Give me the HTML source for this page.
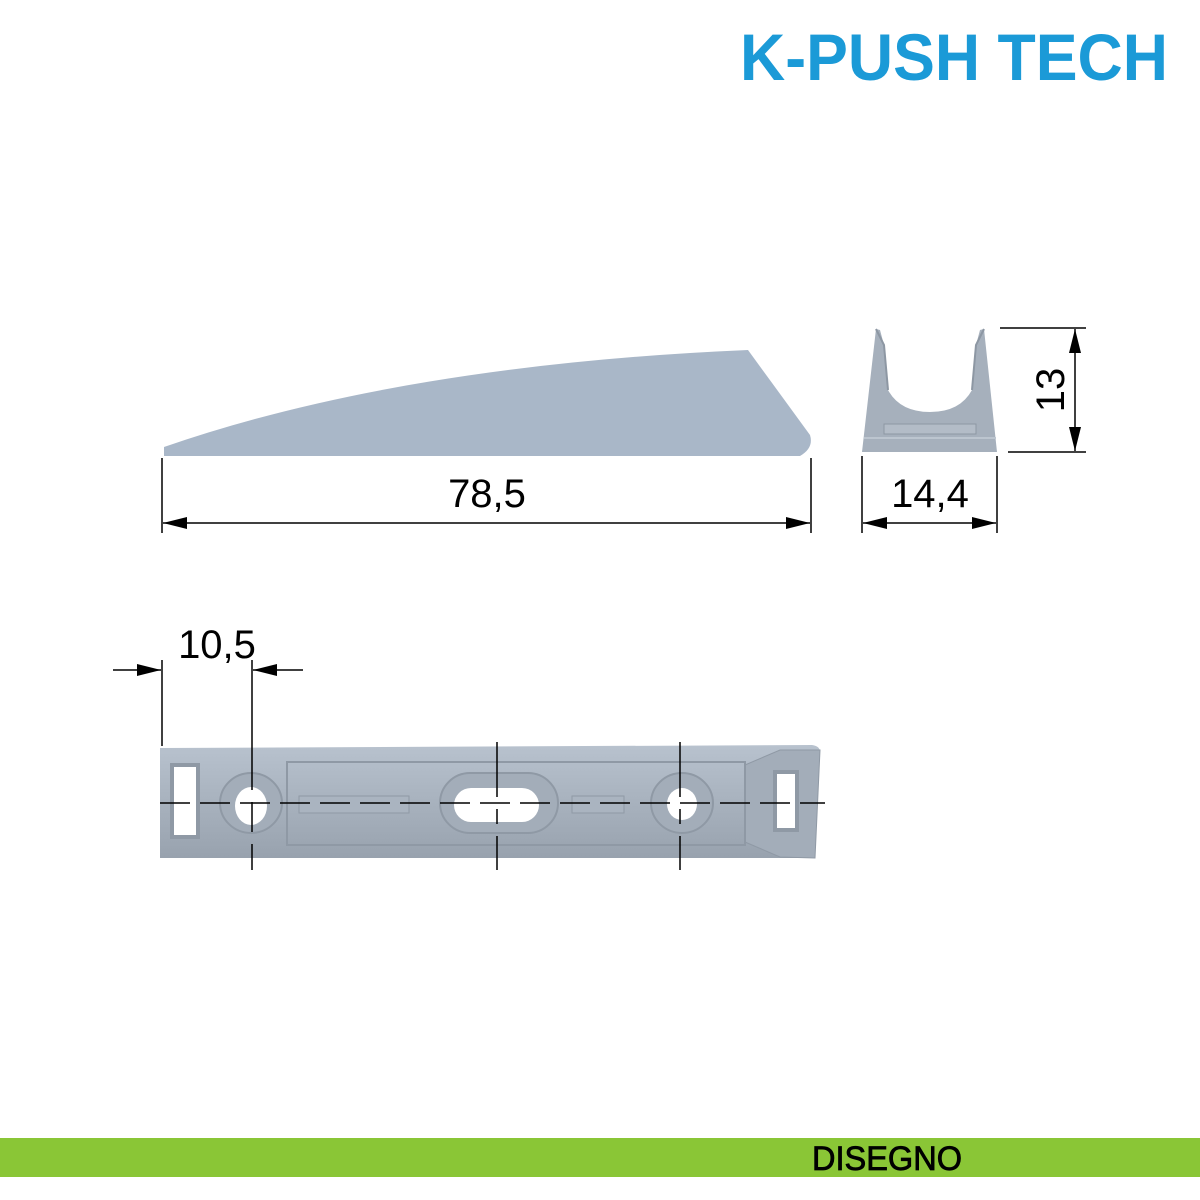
<!DOCTYPE html>
<html><head><meta charset="utf-8"><style>
html,body{margin:0;padding:0;background:#fff;}
svg{display:block;}
text{font-family:"Liberation Sans",sans-serif;}
</style></head><body>
<svg width="1200" height="1200" viewBox="0 0 1200 1200" xmlns="http://www.w3.org/2000/svg">
<defs>
<marker id="a" viewBox="0 0 24 12" refX="24" refY="6" markerWidth="24" markerHeight="12" markerUnits="userSpaceOnUse" orient="auto-start-reverse"><path d="M0,0 L24,6 L0,12 z" fill="#000"/></marker>
<linearGradient id="g1" x1="0" y1="0" x2="0" y2="1"><stop offset="0" stop-color="#b8c2ce"/><stop offset="1" stop-color="#98a2ae"/></linearGradient>
</defs>
<text x="740" y="80" font-size="66" font-weight="bold" fill="#1b9ad7" textLength="428" lengthAdjust="spacingAndGlyphs">K-PUSH TECH</text>

<!-- side profile -->
<path d="M164,447 Q400,365 748,350 L810,435 Q814,448 800,456 L164,456 Z" fill="#a9b7c8"/>
<g stroke="#000" stroke-width="1.5" fill="none">
<line x1="162" y1="458" x2="162" y2="533"/><line x1="811" y1="458" x2="811" y2="533"/>
<line x1="163" y1="523" x2="810" y2="523" marker-start="url(#a)" marker-end="url(#a)"/>
</g>
<text x="487" y="507" font-size="40" text-anchor="middle">78,5</text>

<!-- end view -->
<path d="M876,329 L880,330 L884,345 L888,390 Q900,412 930,412 Q960,412 972,390 L976,345 L980,330 L984,329 L997,452 L862,452 Z" fill="#a6b0bc"/>
<path d="M876,329 L884,345 L888,390" stroke="#8d97a3" stroke-width="2" fill="none"/>
<path d="M984,329 L976,345 L972,390" stroke="#8d97a3" stroke-width="2" fill="none"/>
<rect x="884" y="424" width="92" height="10" fill="#b3bcc7" stroke="#8d97a3"/>
<line x1="864" y1="438" x2="996" y2="438" stroke="#bcc5cf" stroke-width="2"/>
<g stroke="#000" stroke-width="1.5" fill="none">
<line x1="1000" y1="328" x2="1086" y2="328"/><line x1="1008" y1="452" x2="1086" y2="452"/>
<line x1="1075" y1="329" x2="1075" y2="451" marker-start="url(#a)" marker-end="url(#a)"/>
<line x1="862" y1="456" x2="862" y2="533"/><line x1="997" y1="456" x2="997" y2="533"/>
<line x1="863" y1="523" x2="996" y2="523" marker-start="url(#a)" marker-end="url(#a)"/>
</g>
<text transform="translate(1064,390) rotate(-90)" font-size="40" text-anchor="middle">13</text>
<text x="930" y="507" font-size="40" text-anchor="middle">14,4</text>

<!-- bottom view -->
<path d="M160,748 L812,745 Q820,746 820,752 L815,858 L160,858 Z" fill="url(#g1)"/>
<path d="M745,765 L780,750 L820,750 L815,858 L780,857 L745,842 Z" fill="#a3adb9" stroke="#8f99a5"/>
<rect x="172" y="765" width="26" height="72" fill="#fff" stroke="#8f99a5" stroke-width="4"/>
<rect x="775" y="772" width="22" height="58" fill="#fff" stroke="#8f99a5" stroke-width="4"/>
<rect x="287" y="762" width="458" height="83" fill="none" stroke="#8f99a5" stroke-width="2"/>
<ellipse cx="251" cy="803" rx="31" ry="30" fill="#a3adb9" stroke="#8f99a5" stroke-width="2"/>
<ellipse cx="251" cy="806" rx="16" ry="19" fill="#fff"/>
<ellipse cx="682" cy="803" rx="31" ry="30" fill="#a3adb9" stroke="#8f99a5" stroke-width="2"/>
<ellipse cx="682" cy="804" rx="15" ry="16" fill="#fff"/>
<rect x="440" y="773" width="118" height="60" rx="30" fill="#a3adb9" stroke="#8f99a5" stroke-width="2"/>
<rect x="454" y="788" width="85" height="34" rx="17" fill="#fff"/>
<rect x="299" y="796" width="110" height="17" fill="#aab4c0" stroke="#8f99a5"/>
<rect x="572" y="796" width="52" height="17" fill="#aab4c0" stroke="#8f99a5"/>
<g stroke="#000" stroke-width="1.5" fill="none">
<line x1="160" y1="803" x2="825" y2="803" stroke-dasharray="30,10"/>
<line x1="162" y1="660" x2="162" y2="746"/>
<line x1="252" y1="660" x2="252" y2="870" stroke-dasharray="130,12,30,12,100"/>
<line x1="497" y1="742" x2="497" y2="870" stroke-dasharray="55,12,15,12,100"/>
<line x1="680" y1="742" x2="680" y2="870" stroke-dasharray="55,12,15,12,100"/>
<line x1="113" y1="670" x2="161" y2="670" marker-end="url(#a)"/>
<line x1="303" y1="670" x2="253" y2="670" marker-end="url(#a)"/>
</g>
<text x="217" y="658" font-size="40" text-anchor="middle">10,5</text>

<rect x="0" y="1138" width="1200" height="39" fill="#8ac636"/>
<text x="812" y="1170" font-size="34" fill="#000" stroke="#000" stroke-width="0.8" textLength="150" lengthAdjust="spacingAndGlyphs">DISEGNO</text>
</svg>
</body></html>
